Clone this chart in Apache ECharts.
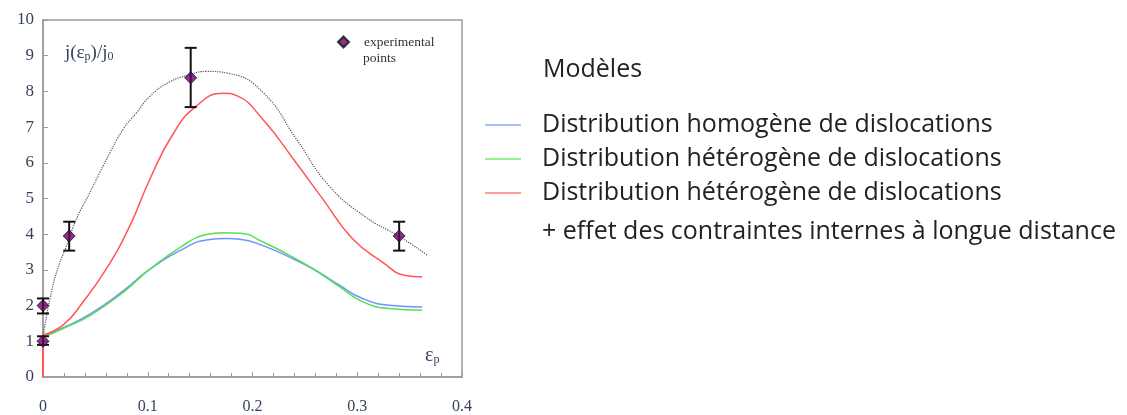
<!DOCTYPE html>
<html>
<head>
<meta charset="utf-8">
<script src="https://cdn.jsdelivr.net/npm/echarts@6/dist/echarts.min.js"></script>
<style>
  html, body { margin: 0; padding: 0; background: #fff; }
  #chart { width: 1127px; height: 415px; }
</style>
</head>
<body>
<div id="chart"></div>
<script>
// values: [εp, j/j0]
var fitCurve = [[0,1.05],[0.0019,1.46],[0.0067,2.2],[0.013,2.94],[0.0226,3.69],[0.032,4.43],[0.0448,5.17],[0.0607,6.1],[0.0765,6.94],[0.0892,7.4],[0.102,7.86],[0.12,8.25],[0.14,8.47],[0.156,8.56],[0.178,8.5],[0.21,7.97],[0.242,6.66],[0.273,5.36],[0.308,4.48],[0.34,3.94],[0.367,3.41]];
var redCurve = [[0,1.18],[0.0193,1.46],[0.0384,2.11],[0.0607,3.04],[0.083,4.24],[0.102,5.54],[0.124,6.8],[0.146,7.58],[0.172,7.95],[0.185,7.88],[0.21,7.21],[0.2416,6.0],[0.267,4.99],[0.2955,3.87],[0.324,3.22],[0.346,2.84],[0.362,2.8]];
var redStem = [[0,0],[0,1.18]];
var greenCurve = [[0,1.12],[0.0193,1.36],[0.0448,1.72],[0.0765,2.37],[0.102,3.02],[0.134,3.69],[0.156,3.99],[0.172,4.04],[0.188,4.03],[0.21,3.78],[0.2416,3.31],[0.26,2.99],[0.283,2.53],[0.305,2.11],[0.33,1.92],[0.362,1.87]];
var blueCurve = [[0,1.12],[0.0193,1.38],[0.0448,1.76],[0.0765,2.41],[0.102,3.02],[0.134,3.59],[0.156,3.84],[0.175,3.88],[0.188,3.86],[0.21,3.68],[0.2416,3.27],[0.26,2.99],[0.283,2.57],[0.305,2.2],[0.33,2.01],[0.362,1.96]];

var expX = [0, 0, 0.025, 0.141, 0.34];
var expY = [1.0, 2.0, 3.95, 8.38, 3.95];
var expLow = [0.9, 1.78, 3.54, 7.56, 3.54];
var expHigh = [1.14, 2.2, 4.35, 9.22, 4.35];

var xTicks = [0, 0.1, 0.2, 0.3, 0.4];
var yTicks = [0, 1, 2, 3, 4, 5, 6, 7, 8, 9, 10];

var modelNames = [
  'Distribution homogène de dislocations',
  'Distribution hétérogène de dislocations',
  'Distribution hétérogène de dislocations '
];

var expPoints = expX.map(function (x, i) { return [x, expY[i]]; });
var expBars = expX.map(function (x, i) { return [x, expLow[i], expHigh[i]]; });

var serif = '"Liberation Serif", "DejaVu Serif", serif';
var sans = '"Open Sans", "Noto Sans", sans-serif';
var labelColor = '#34435c';

var chart = echarts.init(document.getElementById('chart'));
var option = {
  animation: false,
  grid: {
    left: 43, right: 665, top: 20, bottom: 36,
    show: true, borderColor: '#9a9a9a', borderWidth: 1.5
  },
  xAxis: {
    type: 'value', min: 0, max: 0.4, interval: 0.1,
    axisLine: { show: true, onZero: false, lineStyle: { color: '#9a9a9a', width: 1.5 } },
    axisTick: { show: true, inside: true, length: 5, lineStyle: { color: '#9a9a9a' } },
    minorTick: { show: true, splitNumber: 5, length: 4, lineStyle: { color: '#9a9a9a' } },
    splitLine: { show: false },
    axisLabel: {
      margin: 22, fontFamily: serif, fontSize: 16, color: labelColor,
      formatter: function (v) {
        var t = xTicks.filter(function (k) { return Math.abs(k - v) < 1e-9; });
        return t.length ? String(t[0]) : '';
      }
    }
  },
  yAxis: {
    type: 'value', min: 0, max: 10, interval: 1,
    axisLine: { show: true, onZero: false, lineStyle: { color: '#9a9a9a', width: 1.5 } },
    axisTick: { show: true, inside: true, length: 5, lineStyle: { color: '#9a9a9a' } },
    splitLine: { show: false },
    axisLabel: {
      margin: 9, fontFamily: serif, fontSize: 17, color: labelColor,
      formatter: function (v) { return yTicks.indexOf(v) >= 0 ? String(v) : ''; }
    }
  },
  legend: [
    {
      data: ['experimental points'],
      left: 337, top: 35, padding: 0,
      icon: 'diamond', itemWidth: 11, itemHeight: 11, itemGap: 0,
      formatter: function () { return 'experimental'; },
      textStyle: { fontFamily: serif, fontSize: 13.5, color: '#333', padding: [0, 0, 0, 10] }
    },
    {
      data: modelNames.map(function (n, i) {
        return { name: n, itemStyle: { color: ['#a9bdff', '#93f093', '#ff9d9d'][i] } };
      }),
      orient: 'vertical', left: 485, top: 112, padding: 0,
      icon: 'rect', itemWidth: 36, itemHeight: 2, itemGap: 8,
      formatter: '{s|}{t|{name}}',
      textStyle: {
        fontFamily: sans, fontSize: 25, color: '#222', lineHeight: 26,
        rich: { s: { width: 16 }, t: { fontFamily: sans, fontSize: 25, color: '#222' } }
      }
    }
  ],
  graphic: [
    { type: 'text', left: 363, top: 51, style: { text: 'points', font: '13.5px ' + serif, fill: '#333' } },
    {
      type: 'text', left: 65, top: 44,
      style: {
        text: 'j(ε{s|p})/j{s|0}', font: '19px ' + serif, fill: labelColor,
        rich: { s: { fontSize: 12, fontFamily: serif, fill: labelColor, padding: [7, 0, 0, 0] } }
      }
    },
    {
      type: 'text', left: 425, top: 346,
      style: {
        text: 'ε{s|p}', font: '20px ' + serif, fill: labelColor,
        rich: { s: { fontSize: 12, fontFamily: serif, fill: labelColor, padding: [7, 0, 0, 0] } }
      }
    },
    { type: 'text', left: 543, top: 57, style: { text: 'Modèles', font: '25px ' + sans, fill: '#222' } },
    { type: 'text', left: 542, top: 219, style: { text: '+ effet des contraintes internes à longue distance', font: '25px ' + sans, fill: '#222' } }
  ],
  series: [
    {
      name: 'fit', type: 'line', data: fitCurve, smooth: 0.5,
      symbol: 'none', lineStyle: { color: '#555', width: 1.2, type: 'dotted' }, z: 2
    },
    {
      name: modelNames[0], type: 'line', data: blueCurve, smooth: 0.5,
      symbol: 'none', lineStyle: { color: '#7392ff', width: 1.5 }, itemStyle: { color: '#7392ff' }, z: 3
    },
    {
      name: modelNames[1], type: 'line', data: greenCurve, smooth: 0.5,
      symbol: 'none', lineStyle: { color: '#55e055', width: 1.5 }, itemStyle: { color: '#55e055' }, z: 3
    },
    {
      name: modelNames[2], type: 'line', data: redCurve, smooth: 0.5,
      symbol: 'none', lineStyle: { color: '#ff5555', width: 1.5 }, itemStyle: { color: '#ff5555' }, z: 3
    },
    {
      name: 'stem', type: 'line', data: redStem, symbol: 'none',
      lineStyle: { color: '#ff5555', width: 2 }, z: 3
    },
    {
      name: 'error', type: 'custom', z: 4,
      data: expBars,
      renderItem: function (params, api) {
        var lo = api.coord([api.value(0), api.value(1)]);
        var hi = api.coord([api.value(0), api.value(2)]);
        var w = 6;
        var st = { stroke: '#111', lineWidth: 2 };
        return {
          type: 'group',
          children: [
            { type: 'line', shape: { x1: lo[0], y1: lo[1], x2: hi[0], y2: hi[1] }, style: st },
            { type: 'line', shape: { x1: lo[0] - w, y1: lo[1], x2: lo[0] + w, y2: lo[1] }, style: st },
            { type: 'line', shape: { x1: hi[0] - w, y1: hi[1], x2: hi[0] + w, y2: hi[1] }, style: st }
          ]
        };
      }
    },
    {
      name: 'experimental points', type: 'scatter', data: expPoints, z: 5,
      symbol: 'diamond', symbolSize: 12,
      itemStyle: { color: '#660066', borderColor: '#111', borderWidth: 1 }
    }
  ]
};
chart.setOption(option);
</script>
</body>
</html>
